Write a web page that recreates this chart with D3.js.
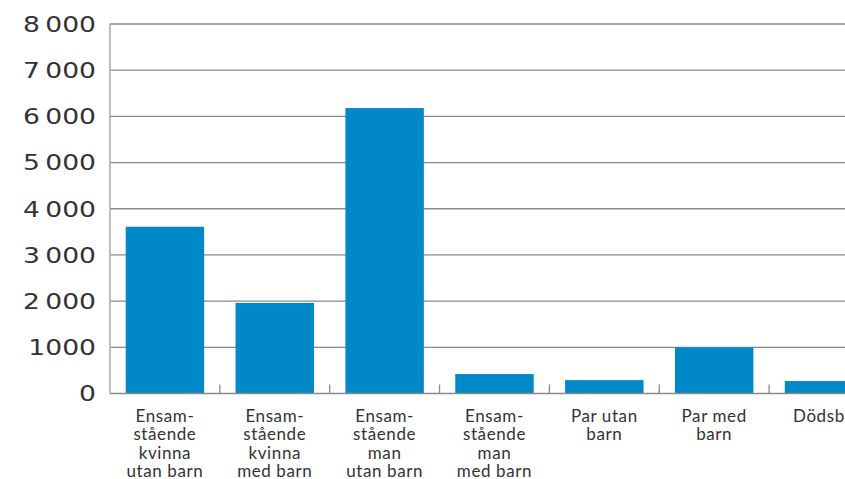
<!DOCTYPE html>
<html>
<head>
<meta charset="utf-8">
<script src="https://cdn.jsdelivr.net/npm/d3@7"></script>
<style>
  html, body { margin: 0; padding: 0; background: #fff; }
  svg { display: block; }
  text { font-family: "Lato", "Noto Sans", sans-serif; fill: #333; }
</style>
</head>
<body>
<svg id="chart" width="845" height="479"></svg>
<script>
const categories = [
  "Ensam-stående kvinna utan barn",
  "Ensam-stående kvinna med barn",
  "Ensam-stående man utan barn",
  "Ensam-stående man med barn",
  "Par utan barn",
  "Par med barn",
  "Dödsbo"
];
const categoryLines = [
  ["Ensam-", "stående", "kvinna", "utan barn"],
  ["Ensam-", "stående", "kvinna", "med barn"],
  ["Ensam-", "stående", "man", "utan barn"],
  ["Ensam-", "stående", "man", "med barn"],
  ["Par utan", "barn"],
  ["Par med", "barn"],
  ["Dödsbo"]
];
const values = [3610, 1960, 6180, 420, 290, 1000, 270];
const tickValues = [0, 1000, 2000, 3000, 4000, 5000, 6000, 7000, 8000];
const tickLabels = ["0", "1000", "2\u2009000", "3\u2009000", "4\u2009000", "5\u2009000", "6\u2009000", "7\u2009000", "8\u2009000"];

const svg = d3.select("#chart");
const left = 110, step = 109.85, baseY = 393.5, topY = 24;

const x = d3.scaleBand()
  .domain(categories)
  .range([left, left + step * categories.length])
  .paddingInner(0.286)
  .paddingOuter(0.143);

const y = d3.scaleLinear().domain([0, 8000]).range([baseY, topY]);

// gridlines
svg.append("g").selectAll("line")
  .data(tickValues.filter(d => d > 0))
  .join("line")
  .attr("x1", left).attr("x2", 845)
  .attr("y1", d => y(d)).attr("y2", d => y(d))
  .attr("stroke", "#8a8a8a").attr("stroke-width", 1.3);

// bars
svg.append("g").selectAll("rect")
  .data(values)
  .join("rect")
  .attr("x", (d, i) => x(categories[i]))
  .attr("width", x.bandwidth())
  .attr("y", d => y(d))
  .attr("height", d => baseY - y(d))
  .attr("fill", "#0088c9");

// baseline
svg.append("line")
  .attr("x1", left).attr("x2", 845)
  .attr("y1", y(0)).attr("y2", y(0))
  .attr("stroke", "#8a8a8a").attr("stroke-width", 1.3);

// y axis line
svg.append("line")
  .attr("x1", left).attr("x2", left)
  .attr("y1", y(8000)).attr("y2", y(0))
  .attr("stroke", "#a8a8a8").attr("stroke-width", 1.5);

// category separator ticks
svg.append("g").selectAll("line")
  .data(categories.slice(1))
  .join("line")
  .attr("x1", d => x(d) - x.step() * x.paddingInner() / 2)
  .attr("x2", d => x(d) - x.step() * x.paddingInner() / 2)
  .attr("y1", y(0) - 9).attr("y2", y(0))
  .attr("stroke", "#8a8a8a").attr("stroke-width", 1.3);

// y tick labels (reference uses wide geometric digits: stretch horizontally)
const yl = svg.append("g").selectAll("text")
  .data(tickValues)
  .join("text")
  .attr("x", 0)
  .attr("y", 0)
  .attr("dy", "0.36em")
  .attr("text-anchor", "end")
  .style("font-family", "'DejaVu Sans', sans-serif")
  .style("font-size", "22px")
  .text((d, i) => tickLabels[i]);
const w0 = yl.filter(d => d === 8000).node().getComputedTextLength();
const sx = Math.max(1, 73 / w0);
yl.attr("transform", d => `translate(96,${y(d)}) scale(${sx},1)`);

// category labels
const lab = svg.append("g").selectAll("text")
  .data(categories)
  .join("text")
  .attr("x", d => x(d) + x.bandwidth() / 2)
  .attr("y", 422)
  .attr("text-anchor", "middle")
  .style("font-size", "17px")
  .style("letter-spacing", "0.6px");
lab.selectAll("tspan")
  .data((d, i) => categoryLines[i])
  .join("tspan")
  .attr("x", function() { return d3.select(this.parentNode).attr("x"); })
  .attr("dy", (d, j) => j === 0 ? 0 : 18.3)
  .text(d => d);
</script>
</body>
</html>
